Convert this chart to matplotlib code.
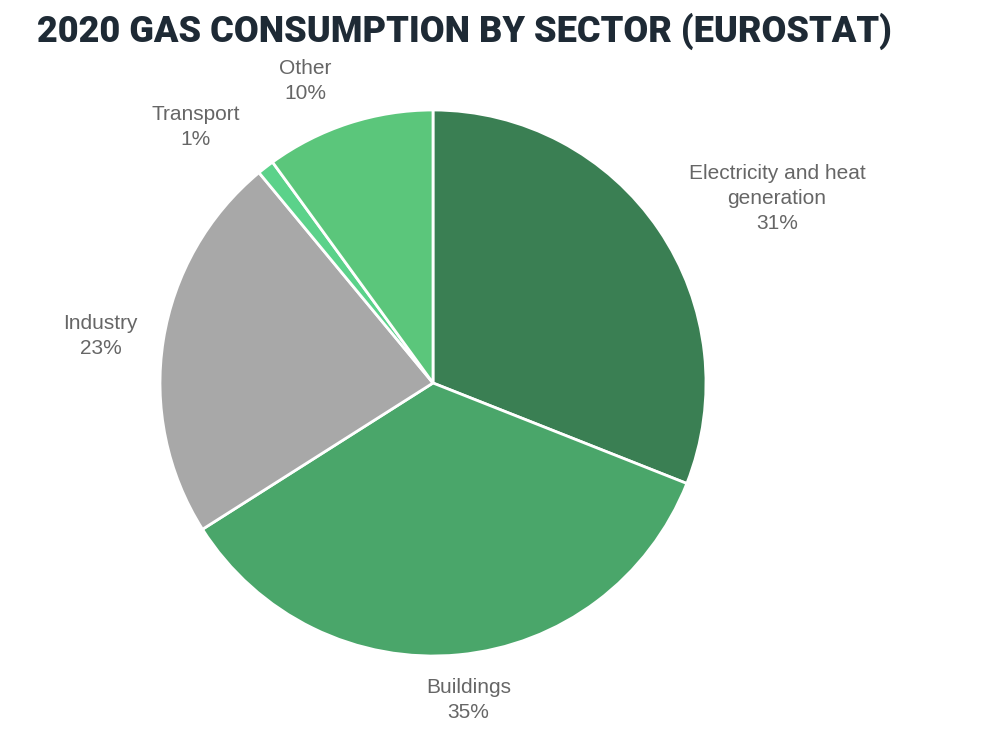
import numpy as np
import matplotlib
matplotlib.use("Agg")
import matplotlib.pyplot as plt

# data
sectors = ["Electricity and heat\ngeneration", "Buildings", "Industry", "Transport", "Other"]
shares = [31, 35, 23, 1, 10]
colors = ["#3a7f53", "#4aa66a", "#a8a8a8", "#5bd28a", "#5bc67b"]

# label placement (distance from centre in radii, angle nudge in degrees)
label_dist = [1.43, 1.17, 1.23, 1.28, 1.20]
label_nudge = [-6, 1, 1, 5, 5]

W, H = 1000, 738
fig = plt.figure(figsize=(W / 100, H / 100), dpi=100)
fig.patch.set_facecolor("white")

cx, cy, r = 433, 383, 273
ax = fig.add_axes([(cx - r) / W, (H - cy - r) / H, 2 * r / W, 2 * r / H])
wedges, _ = ax.pie(shares, colors=colors, startangle=90, counterclock=False,
                   radius=1, wedgeprops=dict(edgecolor="white", linewidth=2))
ax.set_xlim(-1, 1)
ax.set_ylim(-1, 1)
ax.set_aspect("equal")
ax.axis("off")

for w, name, pct, d, nd in zip(wedges, sectors, shares, label_dist, label_nudge):
    ang = np.deg2rad((w.theta1 + w.theta2) / 2 + nd)
    ax.text(d * np.cos(ang), d * np.sin(ang), f"{name}\n{pct}%",
            ha="center", va="center", fontsize=15, color="#666666",
            family=["Liberation Sans", "DejaVu Sans"], linespacing=1.4,
            clip_on=False)

fig.text(37 / W, 1 - 31 / H, "2020 GAS CONSUMPTION BY SECTOR (EUROSTAT)",
         ha="left", va="center", fontsize=26, fontweight="black",
         color="#1e2a35", family=["Roboto", "DejaVu Sans"])

fig.savefig("out.png", dpi=100)
